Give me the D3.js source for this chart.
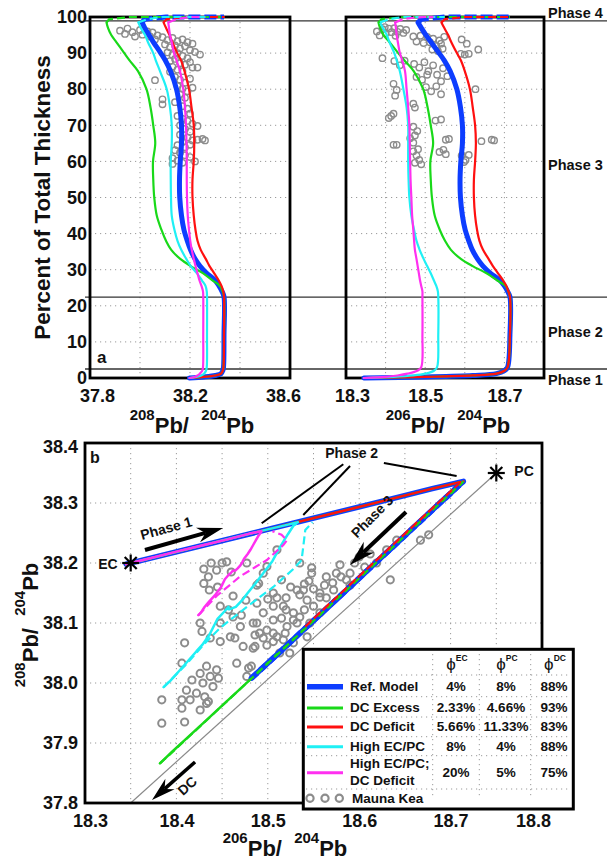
<!DOCTYPE html>
<html>
<head>
<meta charset="utf-8">
<script src="https://cdn.jsdelivr.net/npm/d3@7/dist/d3.min.js"></script>
<style>
html,body{margin:0;padding:0;background:#fff;}
svg{display:block;}
text{font-family:"Liberation Sans",Arial,Helvetica,sans-serif;font-weight:bold;fill:#111;}
</style>
</head>
<body>
<svg id="chart" width="607" height="860"></svg>
<script>
// ================= DATA =================
const pctTicks = [0,10,20,30,40,50,60,70,80,90,100];
const pb208TicksA = [37.8,38.2,38.6];
const pb206TicksA = [18.3,18.5,18.7];
const pb206TicksB = [18.3,18.4,18.5,18.6,18.7,18.8];
const pb208TicksB = [37.8,37.9,38.0,38.1,38.2,38.3,38.4];
const gridPctA = [10,20,30,40,50,60,70,80,90];
const grid208A = [38.0,38.2,38.4];
const grid206A = [18.4,18.5,18.6,18.7];
const grid206B = [18.35,18.4,18.45,18.5,18.55,18.6,18.65,18.7,18.75];
const grid208B = [37.9,38.0,38.1,38.2,38.3];
const phaseBounds = [2.5,22.4,98.9];
const phaseNames = ["Phase 1","Phase 2","Phase 3","Phase 4"];
const phaseLabelPct = [-1.9,11.4,57.6,99.6];

// percent of total thickness (shared sampling grid of the model curves)
const pctGrid = [0,0.3,0.7,1.2,2,3,12,22.5,24,25.5,27,29,31,33,35.5,38,41,45,50,55,60,65,70,75,80,85,88,90,93,95,97,98.5];

// Ref. Model
const ref206 = [18.345,18.50,18.62,18.68,18.70,18.708,18.714,18.714,18.708,18.70,18.689,18.665,18.646,18.632,18.619,18.61,18.601,18.594,18.589,18.588,18.59,18.594,18.594,18.589,18.58,18.563,18.548,18.535,18.515,18.502,18.49,18.482];
const ref208 = [38.198,38.256,38.301,38.324,38.331,38.334,38.336,38.336,38.328,38.316,38.301,38.267,38.240,38.220,38.202,38.189,38.176,38.166,38.159,38.158,38.161,38.166,38.166,38.159,38.146,38.122,38.101,38.083,38.054,38.036,38.019,38.008];
// DC Excess
const exc206 = [18.345,18.50,18.62,18.68,18.70,18.708,18.714,18.714,18.71,18.703,18.682,18.655,18.62,18.59,18.565,18.55,18.537,18.524,18.517,18.514,18.513,18.52,18.514,18.506,18.495,18.471,18.447,18.432,18.41,18.395,18.386,18.382];
const exc208 = [38.198,38.256,38.301,38.324,38.331,38.334,38.336,38.336,38.330,38.320,38.291,38.253,38.203,38.161,38.125,38.104,38.086,38.067,38.057,38.053,38.052,38.061,38.053,38.042,38.026,37.992,37.958,37.937,37.906,37.885,37.872,37.866];
// DC Deficit
const def206 = [18.345,18.50,18.62,18.68,18.70,18.708,18.714,18.714,18.71,18.705,18.697,18.684,18.671,18.66,18.646,18.637,18.631,18.626,18.623,18.623,18.626,18.628,18.626,18.62,18.613,18.60,18.59,18.58,18.566,18.558,18.548,18.541];
const def208 = [38.198,38.256,38.301,38.324,38.331,38.334,38.336,38.336,38.333,38.326,38.315,38.297,38.278,38.263,38.243,38.230,38.222,38.215,38.210,38.210,38.215,38.217,38.215,38.206,38.196,38.178,38.164,38.149,38.130,38.118,38.104,38.094];
// High EC/PC
const hi206 = [18.345,18.42,18.47,18.50,18.522,18.53,18.533,18.533,18.532,18.528,18.522,18.514,18.505,18.496,18.486,18.478,18.472,18.465,18.46,18.458,18.457,18.457,18.457,18.453,18.445,18.436,18.428,18.422,18.41,18.403,18.393,18.386];
const hi208 = [38.198,38.226,38.245,38.256,38.264,38.267,38.268,38.268,38.267,38.262,38.248,38.228,38.203,38.185,38.165,38.15,38.138,38.127,38.124,38.123,38.123,38.127,38.127,38.12,38.107,38.08,38.063,38.053,38.032,38.02,38.003,37.993];
// High EC/PC; DC Deficit
const hid206 = [18.345,18.40,18.43,18.455,18.48,18.49,18.493,18.493,18.493,18.49,18.487,18.484,18.481,18.478,18.474,18.472,18.47,18.467,18.465,18.463,18.462,18.461,18.46,18.457,18.453,18.449,18.442,18.436,18.431,18.428,18.426,18.424];
const hid208 = [38.198,38.219,38.23,38.239,38.249,38.252,38.253,38.253,38.252,38.246,38.238,38.23,38.222,38.215,38.207,38.201,38.196,38.191,38.188,38.187,38.187,38.186,38.184,38.18,38.173,38.16,38.146,38.136,38.127,38.12,38.116,38.113];

// Phase 4 (dashed) segments
const refP4Pct = [98.5,99.4,100,100];
const ref206P4 = [18.482,18.49,18.55,18.714];
const ref208P4 = [38.008,38.019,38.104,38.336];
const excP4Pct = [98.5,99.4,100,100];
const exc206P4 = [18.382,18.39,18.45,18.714];
const exc208P4 = [37.866,37.877,37.962,38.336];
const defP4Pct = [98.5,99.4,100,100];
const def206P4 = [18.541,18.55,18.60,18.714];
const def208P4 = [38.094,38.107,38.178,38.339];
const hiP4Pct = [98.5,99.4,99.8,100,100,100,100,100,100,100];
const hi206P4 = [18.386,18.41,18.431,18.448,18.478,18.506,18.528,18.537,18.541,18.549];
const hi208P4 = [37.993,38.03,38.066,38.092,38.128,38.16,38.19,38.205,38.255,38.268];
const hidP4Pct = [98.5,99.4,99.8,100,100,100,100,100];
const hid206P4 = [18.424,18.444,18.47,18.499,18.517,18.521,18.515,18.505];
const hid208P4 = [38.113,38.145,38.178,38.205,38.23,38.238,38.247,38.253];

// Legend table
const modelNames = ["Ref. Model","DC Excess","DC Deficit","High EC/PC","High EC/PC;|DC Deficit"];
const phiEC = ["4%","2.33%","5.66%","8%","20%"];
const phiPC = ["8%","4.66%","11.33%","4%","5%"];
const phiDC = ["88%","93%","83%","88%","75%"];
const phiHeads = ["EC","PC","DC"];

// End members
const ecPoint = [18.35,38.20];
const pcPoint = [18.75,38.35];
const dcAxisPoint = [18.35,37.80];

// Mauna Kea samples, panel a: [percent, 208Pb/204Pb]
const mk208 = [[96.2,37.92],[95.3,37.94],[96.8,37.95],[95.8,37.97],[94.6,37.98],[96.4,38.00],[95.1,38.01],[96.0,38.03],[94.6,38.04],[95.7,38.05],[94.9,38.07],[93.8,38.06],
[94.4,38.09],[93.6,38.11],[94.2,38.13],[93.3,38.15],[93.8,38.17],[93.0,38.19],[92.6,38.21],[92.4,38.10],[91.6,38.12],[92.1,38.14],[91.3,38.16],[91.9,38.18],[90.8,38.20],[90.3,38.22],[89.6,38.24],[90.2,38.11],[89.5,38.13],[90.0,38.15],[89.2,38.17],[88.6,38.19],[87.8,38.12],[88.4,38.14],[87.2,38.16],[86.8,38.18],[87.5,38.20],[86.0,38.21],[86.0,38.23],[86.2,38.13],[85.4,38.15],[85.0,38.17],[84.8,38.12],
[82.5,38.06],[83.4,38.14],[82.6,38.16],[81.8,38.18],[82.9,38.20],[80.9,38.15],[80.1,38.17],[79.4,38.19],[80.4,38.21],[78.6,38.16],[77.6,38.18],[77.2,38.09],[75.8,38.09],[76.4,38.14],[75.3,38.17],[74.6,38.19],[73.2,38.20],[72.6,38.15],[71.8,38.17],[71.2,38.19],[70.4,38.21],[69.8,38.23],[70.0,38.16],[69.0,38.18],[68.2,38.20],[67.4,38.16],[66.6,38.19],[65.8,38.21],[66.0,38.23],[66.2,38.25],[65.8,38.26],[65.4,38.17],[64.5,38.15],[63.9,38.18],[64.6,38.20],[63.1,38.14],[62.4,38.16],[61.7,38.18],[60.9,38.13],[60.2,38.15],[59.6,38.17],[59.3,38.13],[60.0,38.22],[61.2,38.20]];
// Mauna Kea samples, panel a: [percent, 206Pb/204Pb]
const mk206 = [[96.0,18.378],[94.9,18.385],[96.6,18.392],[95.5,18.400],[96.8,18.408],[95.8,18.415],[96.9,18.422],[95.9,18.430],[96.7,18.437],[95.6,18.445],[96.4,18.452],[97.2,18.398],[94.8,18.425],
[94.6,18.470],[93.2,18.478],[94.8,18.488],[92.8,18.496],[94.5,18.505],[93.0,18.512],[94.0,18.520],[92.0,18.528],[93.5,18.536],[91.2,18.544],[94.5,18.548],[91.0,18.518],[90.6,18.532],[92.6,18.540],
[93.8,18.592],[92.6,18.605],[91.0,18.634],[89.8,18.590],[89.6,18.600],[89.8,18.610],
[88.6,18.392],[87.8,18.422],[86.6,18.436],[87.9,18.448],[87.0,18.472],[86.0,18.485],[87.5,18.498],[85.0,18.508],[86.6,18.520],[84.0,18.530],[85.8,18.545],[83.6,18.556],[83.4,18.478],[82.6,18.492],[84.0,18.505],[82.2,18.540],
[80.6,18.502],[79.4,18.515],[80.8,18.528],[78.6,18.540],[80.0,18.627],[81.5,18.420],[79.8,18.428],[78.2,18.424],[76.0,18.470],[74.9,18.474],
[72.6,18.414],[73.2,18.420],[72.0,18.408],[71.3,18.526],[71.6,18.540],[69.6,18.470],[68.4,18.480],[67.2,18.474],[66.4,18.462],[65.2,18.470],[64.6,18.420],[64.6,18.428],
[66.0,18.552],[66.2,18.560],[65.6,18.642],[66.0,18.668],[65.8,18.674],[62.8,18.470],[61.6,18.478],[60.4,18.485],[59.6,18.474],[59.2,18.490],[63.4,18.482],[62.6,18.536],[63.2,18.546],[62.0,18.552],[61.6,18.592],[60.4,18.602],[61.8,18.610],[59.8,18.598]];
// Mauna Kea samples, panel b: [206Pb/204Pb, 208Pb/204Pb]
const mkB = [[18.384,37.933],[18.384,37.972],[18.406,37.958],[18.409,37.935],[18.406,37.972],[18.415,37.972],[18.411,37.988],[18.422,37.983],[18.426,37.955],[18.433,37.966],
[18.417,38.005],[18.426,38.016],[18.429,38.0],[18.433,38.028],[18.437,38.011],[18.44,37.994],[18.444,38.022],[18.446,38.008],[18.431,37.977],[18.435,37.969],[18.406,38.033],[18.409,38.067],[18.428,38.086],[18.448,38.069],[18.426,38.1],[18.437,38.075],
[18.464,38.075],[18.473,38.061],[18.486,38.061],[18.499,38.063],[18.482,38.028],[18.477,38.011],[18.506,38.069],[18.519,38.083],[18.524,38.05],[18.543,38.077],[18.466,38.033],[18.479,38.025],[18.484,38.058],[18.513,38.05],[18.459,38.077],[18.491,38.083],[18.499,38.088],[18.51,38.077],[18.488,38.1],[18.47,38.094],[18.471,38.113],[18.495,38.117],[18.506,38.128],[18.52,38.122],[18.528,38.105],[18.448,38.128],[18.488,38.133],[18.448,38.1],[18.457,38.122],[18.462,38.11],[18.484,38.1],
[18.506,38.15],[18.51,38.142],[18.532,38.155],[18.535,38.147],[18.543,38.138],[18.517,38.128],[18.528,38.117],[18.532,38.1],[18.521,38.094],[18.506,38.105],[18.506,38.083],[18.486,38.08],[18.495,38.075],[18.557,38.15],[18.564,38.142],[18.572,38.155],[18.55,38.128],[18.557,38.117],[18.546,38.1],[18.535,38.11],[18.517,38.072],[18.528,38.067],[18.49,38.166],[18.499,38.194],[18.495,38.183],[18.477,38.2],[18.51,38.222],
[18.52,38.142],[18.525,38.16],[18.54,38.165],[18.515,38.108],[18.54,38.122],[18.55,38.157],[18.562,38.163],[18.58,38.177],[18.515,38.172],[18.5,38.14],[18.476,38.138],[18.462,38.145],
[18.43,38.166],[18.435,38.177],[18.444,38.188],[18.45,38.2],[18.455,38.202],[18.488,38.163],[18.43,38.19],[18.438,38.2],[18.46,38.185],[18.445,38.16],[18.436,38.155],
[18.535,38.2],[18.545,38.17],[18.557,38.143],[18.539,38.155],[18.548,38.192],[18.548,38.183],[18.564,38.177],[18.571,38.167],[18.575,38.183],[18.579,38.197],[18.59,38.183],[18.586,38.172],[18.606,38.193],[18.619,38.2],[18.634,38.172],[18.63,38.222],[18.641,38.238],[18.667,38.238],[18.676,38.247],[18.6,38.21],[18.612,38.215],[18.595,38.2],[18.59,38.163]];

// Annotation anchors in panel b data coordinates
const phase1Arrow = [[18.3656,38.2217],[18.451,38.2583]];
const phase3Arrow = [[18.6512,38.285],[18.590,38.1967]];
const dcArrow = [[18.4204,37.8683],[18.3733,37.805]];
const phase2Leaders = [[[18.5826,38.3645],[18.4933,38.2662]],[[18.590,38.3617],[18.5388,38.280]],[[18.627,38.3667],[18.7066,38.345]]];
const phase1Text = [18.3903,38.2500];
const phase2Text = [18.5918,38.3750];
const phase3Text = [18.6180,38.2717];
const dcText = [18.4154,37.8225];

// ================= DRAWING =================
const svg = d3.select("#chart");
const FONT = '"Liberation Sans",Arial,Helvetica,sans-serif';

const yPct = d3.scaleLinear().domain([0,100]).range([378,17]);
const x208 = d3.scaleLinear().domain([37.8,38.6]).range([90,290]);
const x206 = d3.scaleLinear().domain([18.3,18.8]).range([346,544]);
const xb = d3.scaleLinear().domain([18.3,18.8]).range([85,542]);
const yb = d3.scaleLinear().domain([37.8,38.4]).range([803,443]);

const COLORS = {ref:"#0d3dff", exc:"#19d919", def:"#ff1010", hi:"#1ff0f5", hid:"#ff30f0"};
const models = [
  {key:"ref", s206:ref206, s208:ref208, p4pct:refP4Pct, p4206:ref206P4, p4208:ref208P4, w:5, wb:5.5},
  {key:"exc", s206:exc206, s208:exc208, p4pct:excP4Pct, p4206:exc206P4, p4208:exc208P4, w:2.2, wb:2.5},
  {key:"def", s206:def206, s208:def208, p4pct:defP4Pct, p4206:def206P4, p4208:def208P4, w:2.2, wb:2.5},
  {key:"hi",  s206:hi206,  s208:hi208,  p4pct:hiP4Pct,  p4206:hi206P4,  p4208:hi208P4,  w:2.2, wb:2.5},
  {key:"hid", s206:hid206, s208:hid208, p4pct:hidP4Pct, p4206:hid206P4, p4208:hid208P4, w:2.2, wb:2.5}
];

const gridColor = "#9a9a9a";
function vgrid(g, scale, vals, y0, y1){
  g.selectAll(null).data(vals).enter().append("line")
    .attr("x1",d=>scale(d)).attr("x2",d=>scale(d)).attr("y1",y0).attr("y2",y1)
    .attr("stroke",gridColor).attr("stroke-width",1).attr("stroke-dasharray","1.2,3.8");
}
function hgrid(g, scale, vals, x0, x1){
  g.selectAll(null).data(vals).enter().append("line")
    .attr("y1",d=>scale(d)).attr("y2",d=>scale(d)).attr("x1",x0).attr("x2",x1)
    .attr("stroke",gridColor).attr("stroke-width",1).attr("stroke-dasharray","1.2,3.8");
}
function styleAxis(g, size){
  g.attr("font-family",FONT).attr("font-size",size).attr("font-weight","bold");
  g.select(".domain").remove();
  g.selectAll(".tick line").remove();
  g.selectAll("text").attr("fill","#111");
}
function supTitle(parent, x, y, rot, parts, mainSize, supSize, shift){
  const t = parent.append("text").attr("text-anchor","middle")
    .attr("transform",`translate(${x},${y}) rotate(${rot})`);
  let cur = 0;
  parts.forEach(p=>{
    const target = p[1] ? -shift : 0;
    t.append("tspan").text(p[0]).attr("font-size", p[1]?supSize:mainSize).attr("dy", target-cur);
    cur = target;
  });
  return t;
}

// ---------- Panel a ----------
const ga = svg.append("g");
const aTop = yPct(100), aBot = yPct(0);
vgrid(ga, x208, grid208A, aTop, aBot);
vgrid(ga, x206, grid206A, aTop, aBot);
hgrid(ga, yPct, gridPctA, x208(37.8), x208(38.6));
hgrid(ga, yPct, gridPctA, x206(18.3), x206(18.8));

// phase boundary lines
ga.selectAll(null).data(phaseBounds).enter().append("line")
  .attr("x1",85).attr("x2",607).attr("y1",d=>yPct(d)).attr("y2",d=>yPct(d))
  .attr("stroke","#333").attr("stroke-width",1.3);

// Mauna Kea circles
ga.selectAll(null).data(mk208).enter().append("circle")
  .attr("cx",d=>x208(d[1])).attr("cy",d=>yPct(d[0])).attr("r",3.2)
  .attr("fill","none").attr("stroke","#8c8c8c").attr("stroke-width",1.4);
ga.selectAll(null).data(mk206).enter().append("circle")
  .attr("cx",d=>x206(d[1])).attr("cy",d=>yPct(d[0])).attr("r",3.2)
  .attr("fill","none").attr("stroke","#8c8c8c").attr("stroke-width",1.4);

// frames
ga.append("rect").attr("x",x208(37.8)).attr("y",aTop).attr("width",x208(38.6)-x208(37.8)).attr("height",aBot-aTop)
  .attr("fill","none").attr("stroke","#000").attr("stroke-width",2.8);
ga.append("rect").attr("x",x206(18.3)).attr("y",aTop).attr("width",x206(18.8)-x206(18.3)).attr("height",aBot-aTop)
  .attr("fill","none").attr("stroke","#000").attr("stroke-width",2.8);

// model curves
const curveA = d3.curveCatmullRom.alpha(0.5);
models.forEach(m=>{
  const pts208 = pctGrid.map((p,i)=>[x208(m.s208[i]), yPct(p)]);
  const pts206 = pctGrid.map((p,i)=>[x206(m.s206[i]), yPct(p)]);
  const ln = d3.line().curve(curveA);
  ga.append("path").attr("d",ln(pts208)).attr("fill","none").attr("stroke",COLORS[m.key]).attr("stroke-width",m.w).attr("stroke-linejoin","round").attr("stroke-linecap","round");
  ga.append("path").attr("d",ln(pts206)).attr("fill","none").attr("stroke",COLORS[m.key]).attr("stroke-width",m.w).attr("stroke-linejoin","round").attr("stroke-linecap","round");
});
models.forEach(m=>{
  const p208 = m.p4pct.map((p,i)=>[x208(m.p4208[i]), yPct(p)]);
  const p206 = m.p4pct.map((p,i)=>[x206(m.p4206[i]), yPct(p)]);
  const ln = d3.line();
  const dash = m.w>3 ? "12,4" : "8,4";
  ga.append("path").attr("d",ln(p208)).attr("fill","none").attr("stroke",COLORS[m.key]).attr("stroke-width",m.w).attr("stroke-dasharray",dash);
  ga.append("path").attr("d",ln(p206)).attr("fill","none").attr("stroke",COLORS[m.key]).attr("stroke-width",m.w).attr("stroke-dasharray",dash);
});

// axes panel a
const axL = ga.append("g").attr("transform",`translate(${x208(37.8)+1},0)`)
  .call(d3.axisLeft(yPct).tickValues(pctTicks).tickSize(0).tickPadding(4).tickFormat(d3.format("d")));
styleAxis(axL, 18);
const axB1 = ga.append("g").attr("transform",`translate(0,${aBot})`)
  .call(d3.axisBottom(x208).tickValues(pb208TicksA).tickSize(0).tickPadding(11).tickFormat(d3.format(".1f")));
styleAxis(axB1, 18);
axB1.selectAll("text").attr("dx",(d,i)=> i===0?7:(i===pb208TicksA.length-1?-7:0));
const axB2 = ga.append("g").attr("transform",`translate(0,${aBot})`)
  .call(d3.axisBottom(x206).tickValues(pb206TicksA).tickSize(0).tickPadding(11).tickFormat(d3.format(".1f")));
styleAxis(axB2, 18);
axB2.selectAll("text").attr("dx",(d,i)=> i===0?6:0);

// phase labels
ga.selectAll(null).data(phaseNames).enter().append("text")
  .attr("x",548).attr("y",(d,i)=>yPct(phaseLabelPct[i])).attr("font-size",14.5).text(d=>d);

// titles panel a
ga.append("text").attr("transform",`translate(50,${(aTop+aBot)/2}) rotate(-90)`).attr("text-anchor","middle")
  .attr("font-size",22.5).text("Percent of Total Thickness");
supTitle(ga, 192, 433, 0, [["208",1],["Pb/\u00A0\u00A0",0],["204",1],["Pb",0]], 22, 15, 13);
supTitle(ga, 448, 433, 0, [["206",1],["Pb/\u00A0\u00A0",0],["204",1],["Pb",0]], 22, 15, 13);
ga.append("text").attr("x",97).attr("y",363).attr("font-size",17).text("a");

// ---------- Panel b ----------
const gb = svg.append("g");
vgrid(gb, xb, grid206B, yb(38.4), yb(37.8));
hgrid(gb, yb, grid208B, xb(18.3), xb(18.8));

// PC - DC mixing line
gb.append("line").attr("x1",xb(pcPoint[0])).attr("y1",yb(pcPoint[1])).attr("x2",xb(dcAxisPoint[0])).attr("y2",yb(dcAxisPoint[1]))
  .attr("stroke","#8a8a8a").attr("stroke-width",1.2);

// Mauna Kea
gb.selectAll(null).data(mkB).enter().append("circle")
  .attr("cx",d=>xb(d[0])).attr("cy",d=>yb(d[1])).attr("r",3.6)
  .attr("fill","none").attr("stroke","#8c8c8c").attr("stroke-width",2);

// model trajectories
models.forEach(m=>{
  const pts = m.s206.map((v,i)=>[xb(v), yb(m.s208[i])]);
  gb.append("path").attr("d",d3.line()(pts)).attr("fill","none").attr("stroke",COLORS[m.key])
    .attr("stroke-width",m.wb).attr("stroke-linejoin","round").attr("stroke-linecap","round");
});
models.forEach(m=>{
  const pts = m.p4206.map((v,i)=>[xb(v), yb(m.p4208[i])]);
  gb.append("path").attr("d",d3.line()(pts)).attr("fill","none").attr("stroke",COLORS[m.key])
    .attr("stroke-width",m.key==="ref"?m.wb:2.2).attr("stroke-dasharray","8,4");
});

// frame
gb.append("rect").attr("x",xb(18.3)).attr("y",yb(38.4)).attr("width",xb(18.8)-xb(18.3)).attr("height",yb(37.8)-yb(38.4))
  .attr("fill","none").attr("stroke","#000").attr("stroke-width",2.8);

// end members
function asterisk(g, cx, cy, r){
  [0,45,90,135].forEach(a=>{
    const t=a*Math.PI/180;
    g.append("line").attr("x1",cx-r*Math.cos(t)).attr("y1",cy-r*Math.sin(t)).attr("x2",cx+r*Math.cos(t)).attr("y2",cy+r*Math.sin(t))
      .attr("stroke","#000").attr("stroke-width",2.2);
  });
}
asterisk(gb, xb(ecPoint[0]), yb(ecPoint[1]), 8.5);
asterisk(gb, xb(pcPoint[0]), yb(pcPoint[1]), 8.5);
gb.append("text").attr("x",xb(ecPoint[0])-13).attr("y",yb(ecPoint[1])+6).attr("text-anchor","end").attr("font-size",14).text("EC");
gb.append("text").attr("x",xb(pcPoint[0])+18).attr("y",yb(pcPoint[1])+3).attr("font-size",14).text("PC");

// arrows
function arrow(g, a, b, L, hw, w){
  const p0=[xb(a[0]),yb(a[1])], p1=[xb(b[0]),yb(b[1])];
  const dx=p1[0]-p0[0], dy=p1[1]-p0[1], len=Math.hypot(dx,dy), ux=dx/len, uy=dy/len, px=-uy, py=ux;
  const n=[p1[0]-ux*L*0.7, p1[1]-uy*L*0.7], base=[p1[0]-ux*L, p1[1]-uy*L];
  g.append("line").attr("x1",p0[0]).attr("y1",p0[1]).attr("x2",n[0]).attr("y2",n[1]).attr("stroke","#000").attr("stroke-width",w);
  g.append("path").attr("d",`M${p1[0]},${p1[1]}L${base[0]+px*hw},${base[1]+py*hw}L${n[0]},${n[1]}L${base[0]-px*hw},${base[1]-py*hw}Z`).attr("fill","#000");
}
arrow(gb, phase1Arrow[0], phase1Arrow[1], 26, 7.5, 4);
arrow(gb, phase3Arrow[0], phase3Arrow[1], 26, 7.5, 4);
arrow(gb, dcArrow[0], dcArrow[1], 24, 7, 3.5);
phase2Leaders.forEach(l=>{
  gb.append("line").attr("x1",xb(l[0][0])).attr("y1",yb(l[0][1])).attr("x2",xb(l[1][0])).attr("y2",yb(l[1][1]))
    .attr("stroke","#000").attr("stroke-width",2);
});
function rotText(g, p, ang, txt, size){
  g.append("text").attr("transform",`translate(${xb(p[0])},${yb(p[1])}) rotate(${ang})`).attr("text-anchor","middle").attr("font-size",size).text(txt);
}
rotText(gb, phase1Text, -15.5, "Phase 1", 14);
rotText(gb, phase2Text, 0, "Phase 2", 14);
rotText(gb, phase3Text, -45, "Phase 3", 14);
rotText(gb, dcText, -42, "DC", 14);

// axes panel b
const axLb = gb.append("g").attr("transform",`translate(${xb(18.3)},0)`)
  .call(d3.axisLeft(yb).tickValues(pb208TicksB).tickSize(0).tickPadding(7).tickFormat(d3.format(".1f")));
styleAxis(axLb, 18);
axLb.selectAll("text").attr("dy",(d,i)=> i===pb208TicksB.length-1 ? "0.55em" : "0.32em");
const axBb = gb.append("g").attr("transform",`translate(0,${yb(37.8)})`)
  .call(d3.axisBottom(xb).tickValues(pb206TicksB).tickSize(0).tickPadding(11).tickFormat(d3.format(".1f")));
styleAxis(axBb, 18);
axBb.selectAll("text").attr("dx",(d,i)=> i===0?5:(i===pb206TicksB.length-1?-9:0));

supTitle(gb, 285, 856, 0, [["206",1],["Pb/\u00A0\u00A0",0],["204",1],["Pb",0]], 22, 15, 13);
supTitle(gb, 38, 625, -90, [["208",1],["Pb/\u00A0\u00A0",0],["204",1],["Pb",0]], 22, 15, 13);
gb.append("text").attr("x",90).attr("y",463).attr("font-size",16).text("b");

// ---------- Legend ----------
const lg = svg.append("g");
const LX=303.3, LY=649.3, LW=270, LH=159.7;
lg.append("rect").attr("x",LX).attr("y",LY).attr("width",LW).attr("height",LH).attr("fill","#fff").attr("stroke","#000").attr("stroke-width",3);
const colX = [456, 506, 554];
const sepX = [432.7, 479.3, 530.7];
const sepY = [675, 696.7, 717, 736.7, 755.7, 789];
lg.selectAll(null).data(sepX).enter().append("line").attr("x1",d=>d).attr("x2",d=>d).attr("y1",654).attr("y2",796)
  .attr("stroke",gridColor).attr("stroke-dasharray","1.2,3.8");
lg.selectAll(null).data(sepY).enter().append("line").attr("y1",d=>d).attr("y2",d=>d).attr("x1",306).attr("x2",570)
  .attr("stroke",gridColor).attr("stroke-dasharray","1.2,3.8");
// header
phiHeads.forEach((h,i)=>{
  const t = lg.append("text").attr("x",colX[i]+1).attr("y",670).attr("text-anchor","middle");
  t.append("tspan").attr("font-size",17).attr("font-weight","normal").text("\u03D5");
  t.append("tspan").attr("font-size",8.5).attr("dy",-9).text(h);
});
const rowBase = [690.7, 712, 731, 750.7, 776.7];
const rowLineY = [686.7, 708, 727, 746.7, 772.7];
const keys = ["ref","exc","def","hi","hid"];
modelNames.forEach((n,i)=>{
  lg.append("line").attr("x1",307).attr("x2",343).attr("y1",rowLineY[i]).attr("y2",rowLineY[i])
    .attr("stroke",COLORS[keys[i]]).attr("stroke-width", i===0?5.5:3);
  const parts = n.split("|");
  if(parts.length===1){
    lg.append("text").attr("x",350).attr("y",rowBase[i]).attr("font-size",13.5).text(parts[0]);
  } else {
    lg.append("text").attr("x",350).attr("y",768).attr("font-size",13.5).text(parts[0]);
    lg.append("text").attr("x",350).attr("y",785).attr("font-size",13.5).text(parts[1]);
  }
  [phiEC,phiPC,phiDC].forEach((col,j)=>{
    lg.append("text").attr("x",colX[j]).attr("y",rowBase[i]).attr("text-anchor","middle").attr("font-size",13.5).text(col[i]);
  });
});
[310,325,339.3].forEach(cx=>{
  lg.append("circle").attr("cx",cx).attr("cy",798.3).attr("r",3.6).attr("fill","none").attr("stroke","#8c8c8c").attr("stroke-width",2.2);
});
lg.append("text").attr("x",352).attr("y",803).attr("font-size",13.5).text("Mauna Kea");
</script>
</body>
</html>
